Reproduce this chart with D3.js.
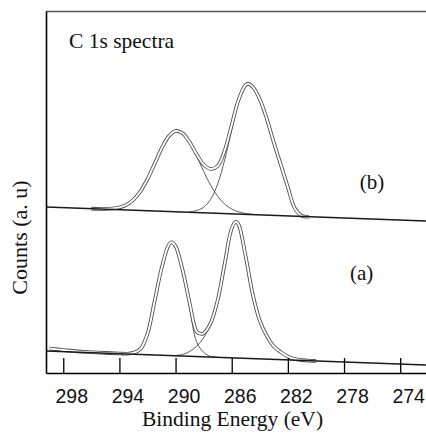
<!DOCTYPE html>
<html><head><meta charset="utf-8">
<script src="https://cdn.jsdelivr.net/npm/d3@7"></script>
<style>
body{margin:0;background:#fff;}
svg{display:block;}
</style></head>
<body><svg id="chart" width="426" height="434"></svg>
<script>
// ---- data (binding energy in eV, counts in arbitrary units) ----
const xTicks = [298, 294, 290, 286, 282, 278, 274];
const baseEnergy = [299.23, 272.16];
const baseCountsA = [22.0, 8.0];
const baseCountsB = [166.0, 152.0];

// spectrum (b)
const b1Energy = [294.5,294,293.5,293,292.5,292,291.5,291,290.5,290,289.5,289,288.5,288,287.5,287,286.5,286,285.5,285,284.5];
const b1Counts = [164.4,165.6,168.1,173.2,181.7,193.9,208.9,224.4,236.5,242.0,239.6,230.4,216.8,201.6,187.7,176.7,168.8,164.0,161.1,159.5,158.7];
const b2Energy = [289,288.5,288,287.5,287,286.5,286,285.5,285,284.8,284.5,284,283.5,283,282.5,282,281.5,281];
const b2Counts = [161.2,162.4,165.7,173.7,189.1,213.2,243.3,271.5,287.3,288.5,285.8,273.8,254.1,230.4,208.1,185.7,164.6,157.1];
const bEnvEnergy = [296,295,294.5,294,293.5,293,292.5,292,291.5,291,290.5,290,289.5,289,288.5,288,287.5,287,286.5,286,285.5,285,284.8,284.5,284,283.5,283,282.5,282,281.5,281,280.5];
const bEnvCounts = [164.4,164.0,164.5,165.6,168.1,173.2,181.7,193.9,208.9,224.4,236.5,242.0,239.7,230.9,218.7,208.5,204.0,207.0,222.6,248.1,273.7,288.2,289.1,286.1,273.8,254.1,230.4,208.1,185.7,164.6,157.1,156.3];

// spectrum (a)
const a1Energy = [293.5,293,292.5,292,291.5,291,290.5,290.3,290,289.5,289,288.5,288,287.5,287];
const a1Counts = [19.2,20.2,23.9,39.3,71.3,104.6,127.9,130.7,126.4,101.4,65.4,31.2,20.7,16.5,15.7];
const a2Energy = [290,289.5,289,288.5,288,287.5,287,286.5,286,285.7,285.5,285,284.5,284,283.5,283,282.5,282,281.5,281,280.5];
const a2Counts = [17.6,18.6,21.5,26.7,35.3,49.3,72.9,109.4,144.7,151.3,148.1,116.1,78.5,52.3,37.1,26.5,20.9,16.5,14.0,12.9,12.3];
const aEnvEnergy = [299,298,297,296,295,294,293.5,293,292.5,292,291.5,291,290.5,290.3,290,289.5,289,288.5,288.2,288,287.5,287,286.5,286,285.7,285.5,285,284.5,284,283.5,283,282.5,282,281.5,281,280.5,280];
const aEnvCounts = [24.5,23.0,21.6,20.8,20.1,19.5,19.3,20.2,23.9,39.3,71.3,104.6,127.9,130.8,126.8,103.0,70.2,41.4,39.2,39.8,49.9,72.9,109.4,144.7,151.3,148.1,116.1,78.5,52.3,37.1,26.5,20.9,16.5,14.0,12.9,12.3,12.1];

const labels = {
  title: "C 1s spectra", a: "(a)", b: "(b)",
  xTitle: "Binding Energy (eV)", yTitle: "Counts (a. u)"
};

// ---- layout ----
const svg = d3.select("#chart");
const x = d3.scaleLinear().domain([299.23, 272.16]).range([46, 426]);
const y = d3.scaleLinear().domain([0, 362]).range([373, 11]);
const serif = "'Liberation Serif','Times New Roman',serif";
const sans = "'Liberation Sans',Arial,Helvetica,sans-serif";

const zip = (es, cs) => es.map((e, i) => [e, cs[i]]);
const line = d3.line().x(d => x(d[0])).y(d => y(d[1])).curve(d3.curveCatmullRom.alpha(0.5));
const straight = d3.line().x(d => x(d[0])).y(d => y(d[1]));

const plot = svg.append("g");

// component peaks (thin single lines)
[[a1Energy,a1Counts],[a2Energy,a2Counts],[b1Energy,b1Counts],[b2Energy,b2Counts]].forEach(([e,c]) => {
  plot.append("path").attr("d", line(zip(e,c)))
    .attr("fill","none").attr("stroke","#4a4a4a").attr("stroke-width",0.9);
});

// envelopes (drawn as a double line: experimental + fit)
[[aEnvEnergy,aEnvCounts],[bEnvEnergy,bEnvCounts]].forEach(([e,c]) => {
  const d = line(zip(e,c));
  plot.append("path").attr("d", d).attr("fill","none")
    .attr("stroke","#4a4a4a").attr("stroke-width",3.6).attr("stroke-linejoin","round");
  plot.append("path").attr("d", d).attr("fill","none")
    .attr("stroke","#fff").attr("stroke-width",1.9).attr("stroke-linejoin","round");
});

// linear backgrounds
[baseCountsA, baseCountsB].forEach(c => {
  plot.append("path").attr("d", straight(zip(baseEnergy, c)))
    .attr("fill","none").attr("stroke","#1a1a1a").attr("stroke-width",1.5);
});

// top frame line
svg.append("line")
  .attr("x1", x(299.23)).attr("x2", x(272.16))
  .attr("y1", y(361.5)).attr("y2", y(361.5))
  .attr("stroke","#5a5a5a").attr("stroke-width",1.6);

// left axis (line only)
const yAxis = svg.append("g").attr("transform", `translate(${x(299.23)},0)`)
  .call(d3.axisLeft(y).ticks(0).tickSizeOuter(0));
yAxis.select(".domain").attr("stroke","#000").attr("stroke-width",1.6);

// bottom axis, ticks pointing up
const xAxis = svg.append("g").attr("transform", `translate(0,${y(0)})`)
  .call(d3.axisBottom(x).tickValues(xTicks).tickFormat(d3.format("d"))
        .tickSizeInner(-15).tickSizeOuter(0).tickPadding(16));
xAxis.select(".domain").attr("stroke","#000").attr("stroke-width",1.6);
xAxis.selectAll(".tick line").attr("stroke","#000").attr("stroke-width",1.3);
xAxis.selectAll(".tick text")
  .attr("font-family", sans).attr("font-size", 19.5).attr("fill","#111").attr("dx", 8);

// texts
svg.append("text").attr("x", 69).attr("y", 48)
  .attr("font-family", serif).attr("font-size", 21.5).attr("fill","#111").text(labels.title);
svg.append("text").attr("x", 372).attr("y", 189).attr("text-anchor","middle")
  .attr("font-family", serif).attr("font-size", 21).attr("fill","#111").text(labels.b);
svg.append("text").attr("x", 361.7).attr("y", 279.5).attr("text-anchor","middle")
  .attr("font-family", serif).attr("font-size", 21).attr("fill","#111").text(labels.a);
svg.append("text").attr("x", 232.5).attr("y", 426).attr("text-anchor","middle")
  .attr("font-family", serif).attr("font-size", 21.5).attr("fill","#111").text(labels.xTitle);
svg.append("text").attr("transform","translate(26.5,237.5) rotate(-90)").attr("text-anchor","middle")
  .attr("font-family", serif).attr("font-size", 22).attr("fill","#111").text(labels.yTitle);
</script>
</body></html>
